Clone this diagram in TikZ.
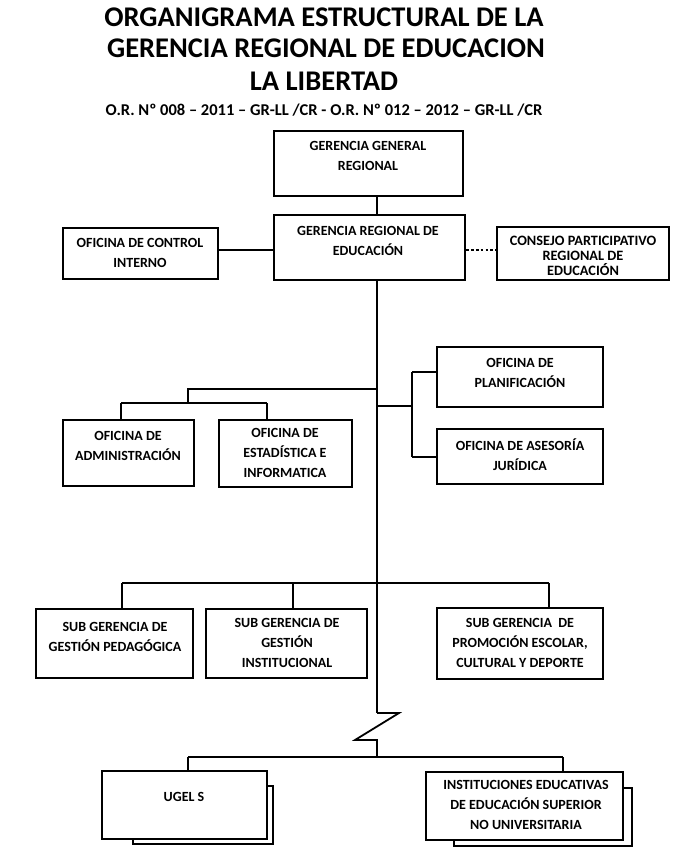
\documentclass[tikz,border=0pt]{standalone}
\usepackage{fontspec}
\setmainfont{Carlito}
\begin{document}
\begin{tikzpicture}[x=1pt,y=-1pt,
  box/.style={draw, line width=2.6pt, fill=white, inner sep=0pt},
  txt/.style={align=center, inner sep=0pt, font=\bfseries\fontsize{14}{20}\selectfont},
  txtc/.style={align=center, inner sep=0pt, font=\bfseries\fontsize{14.3}{15}\selectfont},
  ttl/.style={inner sep=0pt, font=\bfseries\fontsize{28.5}{30}\selectfont},
  sub/.style={inner sep=0pt, font=\bfseries\fontsize{16.5}{18}\selectfont},
  conn/.style={line width=2.5pt},
  thin/.style={line width=1.8pt},
  dots/.style={line width=2.8pt, dash pattern=on 2.6pt off 2.2pt}
]
\useasboundingbox[fill=white] (0,0) rectangle (698,858);

% titles
\node[ttl] (t1) at (324,17) {ORGANIGRAMA ESTRUCTURAL DE LA};
\node[ttl] (t2) at (326,48) {GERENCIA REGIONAL DE EDUCACION};
\node[ttl] (t3) at (324,81) {LA LIBERTAD};
\node[sub] (t4) at (324,110) {O.R. Nº 008 – 2011 – GR-LL /CR - O.R. Nº 012 – 2012 – GR-LL /CR};

\coordinate (main) at (377,0);

% boxes
\node[box, minimum width=189pt, minimum height=65pt] (ggr) at (368.5,163.5) {};
\node[box, minimum width=191pt, minimum height=65pt] (gre) at (369.5,247.5) {};
\node[box, minimum width=155pt, minimum height=51pt] (oci) at (140.5,253.5) {};
\node[box, minimum width=172pt, minimum height=53pt] (cpre) at (583,253.5) {};
\node[box, minimum width=131pt, minimum height=66pt] (adm) at (128.5,453) {};
\node[box, minimum width=133pt, minimum height=67pt] (est) at (285.5,453.5) {};
\node[box, minimum width=166pt, minimum height=60pt] (plan) at (520,377) {};
\node[box, minimum width=166pt, minimum height=55pt] (ases) at (520,456.5) {};
\node[box, minimum width=157pt, minimum height=69pt] (sgp) at (114.5,643.5) {};
\node[box, minimum width=161pt, minimum height=69pt] (sgi) at (286.5,643.5) {};
\node[box, minimum width=166pt, minimum height=71pt] (sgpe) at (520,643.5) {};
\node[box, minimum width=140pt, minimum height=58pt] (ugelb) at (203,815) {};
\node[box, minimum width=165pt, minimum height=68pt] (ugel) at (184.5,805) {};
\node[box, minimum width=178pt, minimum height=58pt] (iesb) at (543,817) {};
\node[box, minimum width=197pt, minimum height=68pt] (ies) at (524.5,806) {};

% texts
\node[txt] (ggrt) at (368,156) {GERENCIA GENERAL\\REGIONAL};
\node[txt] (gret) at (368,241) {GERENCIA REGIONAL DE\\EDUCACIÓN};
\node[txt] (ocit) at (140,253) {OFICINA DE CONTROL\\INTERNO};
\node[txtc] (cpret) at (583,256) {CONSEJO PARTICIPATIVO\\REGIONAL DE\\EDUCACIÓN};
\node[txt] (admt) at (128,446) {OFICINA DE\\ADMINISTRACIÓN};
\node[txt] (estt) at (285,453) {OFICINA DE\\ESTADÍSTICA E\\INFORMATICA};
\node[txt] (plant) at (520,373) {OFICINA DE\\PLANIFICACIÓN};
\node[txt] (asest) at (520,455) {OFICINA DE ASESORÍA\\JURÍDICA};
\node[txt] (sgpt) at (115,637) {SUB GERENCIA DE\\GESTIÓN PEDAGÓGICA};
\node[txt] (sgit) at (287,643) {SUB GERENCIA DE\\GESTIÓN\\INSTITUCIONAL};
\node[txt] (sgpet) at (520,643) {SUB GERENCIA\ \ DE\\PROMOCIÓN ESCOLAR,\\CULTURAL Y DEPORTE};
\node[txt] (ugelt) at (184,797) {UGEL S};
\node[txt] (iest) at (526,805) {INSTITUCIONES EDUCATIVAS\\DE EDUCACIÓN SUPERIOR\\NO UNIVERSITARIA};

% zigzag and branch points
\coordinate (z1) at (377,713);
\coordinate (z2) at (399,713);
\coordinate (z3) at (355,740);
\coordinate (z4) at (377,740);
\coordinate (z5) at (377,757);
\coordinate (la) at (377,389);
\coordinate (lb) at (188,389);
\coordinate (lc) at (188,403);
\coordinate (ll) at (121,403);
\coordinate (lr) at (267,403);
\coordinate (ra) at (377,406);
\coordinate (rb) at (412,406);
\coordinate (rt) at (412,372);
\coordinate (rd) at (412,457);
\coordinate (sl) at (122,583);
\coordinate (sm) at (293,583);
\coordinate (sr) at (549,583);
\coordinate (bl) at (188,757);
\coordinate (br) at (563,757);

% connectors
\draw[conn] (ggr.south -| main) -- (gre.north -| main);
\draw[conn] (oci.east |- 0,250) -- (gre.west |- 0,250);
\draw[dots] (gre.east |- 0,250) -- (cpre.west |- 0,250);
\draw[conn] (gre.south -| main) -- (z1);
\draw[thin] (z1) -- (z2) -- (z3) -- (z4) -- (z5);
\draw[conn] (la) -- (lb) -- (lc);
\draw[conn] (ll) -- (lr);
\draw[conn] (ll) -- (adm.north -| ll);
\draw[conn] (lr) -- (est.north -| lr);
\draw[conn] (ra) -- (rb);
\draw[conn] (rt) -- (rd);
\draw[conn] (rt) -- (plan.west |- rt);
\draw[conn] (rd) -- (ases.west |- rd);
\draw[conn] (sl) -- (sr);
\draw[conn] (sl) -- (sgp.north -| sl);
\draw[conn] (sm) -- (sgi.north -| sm);
\draw[conn] (sr) -- (sgpe.north -| sr);
\draw[conn] (bl) -- (br);
\draw[conn] (bl) -- (ugel.north -| bl);
\draw[conn] (br) -- (ies.north -| br);
\end{tikzpicture}
\end{document}
